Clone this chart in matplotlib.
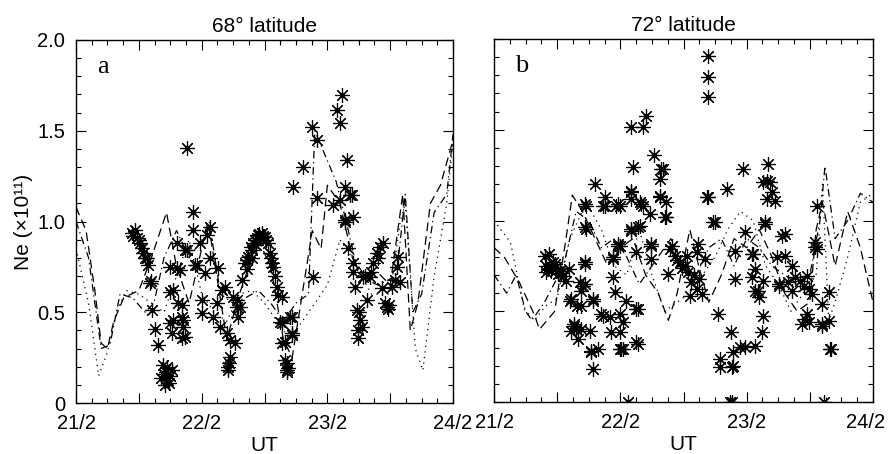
import matplotlib
matplotlib.use("Agg")
import matplotlib.pyplot as plt
import matplotlib.transforms as mtransforms
from matplotlib.ticker import MultipleLocator, FixedLocator

plt.rcParams["font.family"] = ["Liberation Sans", "DejaVu Sans"]

# time axis is in days after 21/2 00 UT
day_ticks = [0, 1, 2, 3]
day_labels = ["21/2", "22/2", "23/2", "24/2"]
titles = ["68° latitude", "72° latitude"]
panel_tags = ["a", "b"]

# --- 68 deg latitude: observed Ne (x10^11)
obs68 = [
    (.443, .935), (.469, .953), (.483, .907), (.509, .880), (.523, .852), (.535, .824),
    (.562, .797), (.575, .760), (.455, .92), (.50, .90), (.55, .80),
    (.589, .659), (.595, .67), (.602, .512), (.628, .41), (.655, .32),
    (.676, .14), (.692, .21), (.708, .10), (.716, .17), (.732, .127), (.748, .15),
    (.764, .18), (.70, .16), (.725, .20), (.74, .11),
    (.748, .75), (.748, .613), (.774, .623), (.774, .457), (.761, .384), (.748, .439),
    (.801, .88), (.801, .742), (.827, .733), (.814, .549), (.841, .54), (.841, .475),
    (.841, .356), (.854, .42), (.854, .457), (.867, .365), (.867, .843), (.881, .843),
    (.881, 1.407), (.928, 1.054), (.933, .953), (.947, .76), (.96, .76), (.986, .88),
    (1.0, .494), (1.0, .567), (1.026, .715), (1.04, .926), (1.066, .971), (1.066, .797),
    (1.092, .475), (1.119, .549), (1.132, .742), (1.146, .42), (1.159, .623), (1.185, .641),
    (1.199, .384), (1.225, .347), (1.225, .255), (1.212, .2), (1.212, .18), (1.22, .22),
    (1.251, .586), (1.265, .329), (1.278, .531), (1.278, .567), (1.291, .475), (1.305, .531),
    (1.318, .678), (1.344, .77), (1.371, .806), (1.398, .843), (1.424, .898), (1.45, .926),
    (1.477, .935), (1.504, .916), (1.53, .88), (1.543, .825), (1.57, .751), (1.597, .641),
    (1.61, .595), (1.623, .448), (1.636, .586), (1.636, .439), (1.636, .329), (1.663, .338),
    (1.663, .237), (1.676, .219), (1.676, .182), (1.689, .191), (1.676, .17), (1.702, .475),
    (1.716, .375), (1.716, .475), (1.716, .384), (1.888, .696),
    (1.36, .79), (1.39, .86), (1.41, .88), (1.44, .91), (1.46, .93), (1.49, .92),
    (1.51, .90), (1.55, .80), (1.56, .77), (1.58, .70), (1.43, .87), (1.40, .80), (1.36, .74),
    (1.729, 1.192), (1.808, 1.302), (1.875, 1.522), (1.915, 1.449), (1.915, 1.128),
    (2.047, 1.091), (2.074, 1.614), (2.1, 1.541), (2.1, 1.118), (2.114, 1.697), (2.14, 1.192),
    (2.14, 1.008), (2.154, 1.339), (2.18, 1.146), (2.193, 1.146), (2.206, 1.026), (2.14, .999),
    (2.166, .852), (2.206, .77), (2.206, .723), (2.22, .641), (2.233, .512), (2.259, .457),
    (2.273, .42), (2.246, .356), (2.286, .696), (2.313, .567), (2.339, .696), (2.365, .77),
    (2.392, .825), (2.418, .861), (2.445, .88), (2.432, .632), (2.472, .531), (2.48, .52),
    (2.46, .55), (2.49, .54), (2.512, .641), (2.538, .678), (2.551, .751), (2.564, .806),
    (2.578, .668), (2.35, .72), (2.40, .80), (2.30, .70), (2.25, .50), (2.24, .40),
]

# --- 72 deg latitude: observed Ne (x10^11)
obs72 = [
    (1.696, 1.908), (1.696, 1.789), (1.696, 1.679), (1.087, 1.513), (1.18, 1.513),
    (1.206, 1.577), (1.265, 1.362), (1.1, 1.293), (1.325, 1.284), (1.312, 1.229),
    (1.97, 1.284), (2.172, 1.311), (1.841, 1.174), (1.696, 1.128), (2.133, 1.21),
    (2.185, 1.21), (2.198, 1.155), (2.159, 1.118), (2.225, 1.109), (2.159, 1.219),
    (.796, 1.201), (.875, 1.128), (.875, 1.082), (.982, 1.091), (.717, 1.091), (1.087, 1.164),
    (1.087, 1.118), (1.153, 1.1), (1.18, 1.082), (1.233, 1.036), (1.312, 1.128), (1.365, 1.1),
    (1.365, 1.018), (2.56, 1.082), (.717, .962), (1.14, .962), (1.749, .99), (2.145, .99),
    (.73, 1.082), (.863, 1.082), (.968, 1.082), (.73, .953), (.982, .861), (.942, .797),
    (.717, .76), (.942, .687), (.955, .604),
    (.439, .815), (.413, .751), (.466, .77), (.492, .742), (.519, .723), (.545, .696),
    (.571, .668), (.505, .705), (.59, .733), (.452, .723), (.413, .714), (.40, .806),
    (.426, .733), (.48, .76), (.53, .71), (.46, .74),
    (.677, .66), (.717, .65), (.69, .613), (.783, .558), (.6, .558), (.659, .531),
    (.637, .43), (.651, .402), (.611, .393), (.69, .402), (.664, .347), (.756, .393),
    (.77, .283), (.823, .292), (.783, .182), (.849, .485), (.915, .467), (.928, .384),
    (.994, .485), (.994, .292), (.717, .77), (.704, .641), (.783, .567), (.611, .567),
    (.69, .531), (.637, .42), (.77, .274), (.863, .475), (1.008, .292), (1.14, .32),
    (1.14, .512), (1.048, .558), (1.127, .512), (1.021, .439), (.994, .384), (1.021, .292),
    (1.127, .329), (.942, .788), (.982, .87), (1.087, .944), (1.246, .87), (1.246, .788),
    (1.378, .705), (1.339, 1.284), (1.087, 1.155), (1.167, 1.091), (1.312, 1.137),
    (.994, 1.082), (1.352, 1.018), (1.087, .953), (1.153, .971), (.994, .861), (1.127, .825),
    (1.246, .861), (1.405, .861),
    (1.392, .843), (1.432, .806), (1.471, .77), (1.511, .751), (1.537, .714), (1.563, .66),
    (1.603, .623), (1.643, .595), (1.603, .825), (1.669, .788), (1.617, .87), (1.524, .806),
    (1.55, .586), (1.45, .78), (1.49, .74), (1.58, .70), (1.62, .68),
    (1.735, .99), (1.683, 1.128), (1.77, .485), (1.876, .384), (1.947, .301), (1.894, .274),
    (1.788, .237), (1.788, .191), (1.881, .191), (1.894, .2), (2.066, .31), (2.119, .384),
    (2.133, .475), (2.066, .613), (2.053, .815), (1.907, .834), (1.907, .678), (2.252, .641),
    (2.463, .457), (2.595, .42), (2.648, .604), (2.661, .292), (2.665, .29), (2.542, .852),
    (2.278, .916), (1.987, .935),
    (2.145, .981), (2.304, .926), (2.542, .88), (2.556, .843), (2.04, .815), (2.304, .806),
    (2.238, .797), (2.357, .751), (2.066, .733), (2.133, .668), (2.04, .687), (2.252, .65),
    (2.331, .66), (2.384, .687), (2.423, .668), (2.45, .641), (2.49, .623), (2.516, .595),
    (2.357, .613), (2.476, .696), (2.087, .613), (2.1, .577), (2.595, .54), (2.476, .485),
    (2.49, .439), (2.437, .43), (2.595, .43), (2.648, .448), (1.987, .301),
    (1.06, 0.0), (1.87, 0.0), (1.885, 0.0), (2.61, 0.0),
]

# --- model curves, 68 deg
m68_dash_t = [0.0, .08, .15, .2, .25, .3, .38, .5, .6, .72, .8, .9, 1.0, 1.05, 1.12, 1.2, 1.3,
              1.45, 1.55, 1.65, 1.72, 1.8, 1.88, 1.95, 2.0, 2.1, 2.2, 2.3, 2.4, 2.5, 2.6, 2.66,
              2.72, 2.82, 2.9, 3.0]
m68_dash = [1.08, .95, .62, .33, .3, .45, .58, .62, .8, 1.05, .75, .55, .85, 1.0, .7, .35, .6,
            .9, .75, .35, .25, .6, .95, .85, 1.2, 1.1, .8, .7, .72, .65, 1.15, .4,
            .55, 1.1, 1.2, 1.45]
m68_dot_t = [0.0, .1, .18, .25, .32, .4, .5, .6, .7, .8, .9, 1.0, 1.1, 1.2, 1.3, 1.4, 1.5, 1.6,
             1.7, 1.8, 1.9, 2.0, 2.1, 2.2, 2.35, 2.5, 2.58, 2.62, 2.7, 2.76, 2.85, 2.95, 3.0]
m68_dot = [.85, .55, .15, .28, .5, .62, .6, .55, .5, .7, .9, .6, .5, .45, .6, .62, .55, .45,
           .35, .45, .55, .65, .9, .8, .6, .6, 1.0, 1.1, .3, .18, .7, 1.1, 1.45]
m68_dd_t = [0.0, .1, .2, .27, .35, .45, .55, .62, .7, .8, .9, 1.0, 1.06, 1.15, 1.25, 1.35, 1.45,
            1.55, 1.65, 1.75, 1.85, 1.9, 2.07, 2.15, 2.25, 2.4, 2.55, 2.62, 2.68, 2.75, 2.85,
            2.95, 3.0]
m68_dd = [1.0, .8, .3, .32, .6, .58, .5, .55, .8, .95, .8, .9, 1.0, .6, .55, .58, .62,
          .55, .45, .55, .6, 1.5, 1.22, 1.0, .7, .65, .7, 1.15, .5, .6, 1.05,
          1.15, 1.48]

# --- model curves, 72 deg
m72_dash_t = [0.0, .08, .2, .32, .36, .48, .57, .62, .7, .8, .9, 1.0, 1.1, 1.2, 1.3, 1.38, 1.45,
              1.55, 1.62, 1.7, 1.8, 1.9, 2.0, 2.1, 2.2, 2.3, 2.4, 2.5, 2.55, 2.6, 2.7, 2.8,
              2.9, 3.0]
m72_dash = [.85, .8, .66, .48, .4, .5, .9, 1.14, 1.05, .9, .75, .85, .9, .7, .6, .45, .6,
            .95, .75, .55, .7, .9, .85, .95, .8, .6, .5, .55, .95, 1.1, .75, 1.05,
            .85, .55]
m72_dot_t = [0.0, .13, .24, .32, .41, .5, .6, .73, .85, .95, 1.05, 1.15, 1.25, 1.35, 1.45, 1.55,
             1.65, 1.75, 1.85, 1.95, 2.05, 2.15, 2.25, 2.35, 2.45, 2.55, 2.6, 2.65, 2.7, 2.8,
             2.9, 3.0]
m72_dot = [1.0, .88, .51, .45, .53, .57, .9, 1.1, .95, .75, .7, .95, .7, .5, .55, .6,
           .7, .8, .95, 1.05, 1.0, .75, .65, .5, .6, .7, 1.2, .45, .55, .8,
           1.1, 1.15]
m72_dd_t = [0.0, .1, .175, .25, .3, .4, .55, .65, .75, .85, .95, 1.05, 1.15, 1.3, 1.4, 1.5, 1.6,
            1.7, 1.8, 1.9, 2.0, 2.1, 2.2, 2.3, 2.4, 2.5, 2.58, 2.62, 2.7, 2.8, 2.9, 3.0]
m72_dd = [.7, .6, .7, .5, .45, .55, .75, 1.05, 1.0, .85, .9, .8, .65, .8, .9, .75, .7,
          .85, .9, .75, .9, .85, .75, .7, .65, .7, 1.0, 1.3, .9, 1.0, 1.15, 1.1]

panels = [
    (obs68, [(m68_dash_t, m68_dash), (m68_dot_t, m68_dot), (m68_dd_t, m68_dd)]),
    (obs72, [(m72_dash_t, m72_dash), (m72_dot_t, m72_dot), (m72_dd_t, m72_dd)]),
]
line_styles = [(0, (7, 4)), (0, (1, 3.5)), (0, (6, 3, 1, 3))]
half_days = [0, 0.5, 1.0, 1.5, 2.0, 2.5, 3.0]

fig = plt.figure(figsize=(8.89, 4.54), dpi=100)
axes = [fig.add_axes([0.0855, 0.1123, 0.4241, 0.7996]),
        fig.add_axes([0.5557, 0.1145, 0.4263, 0.7996])]

for i, (ax, (obs, models)) in enumerate(zip(axes, panels)):
    for (t, ne), ls in zip(models, line_styles):
        ax.plot(t, ne, color="black", lw=0.9, linestyle=ls)
    ot = [p[0] for p in obs]
    on = [p[1] for p in obs]
    ax.plot(ot, on, linestyle="none", marker=(8, 2, 0), ms=10.5, mew=0.85,
            color="black")
    ax.plot(ot, on, linestyle="none", marker="o", ms=2.4, color="black")

    ax.set_xlim(0, 3)
    ax.set_ylim(0, 2.0)
    ax.xaxis.set_major_locator(FixedLocator(half_days))
    ax.xaxis.set_minor_locator(MultipleLocator(0.125))
    ax.set_xticklabels([day_labels[int(v)] if v in day_ticks else ""
                        for v in half_days])
    ax.yaxis.set_major_locator(FixedLocator([0, 0.5, 1.0, 1.5, 2.0]))
    ax.yaxis.set_minor_locator(MultipleLocator(0.1))
    ax.tick_params(which="both", direction="in", top=True, right=True,
                   labelsize=14.5, width=0.8)
    ax.tick_params(which="major", length=7)
    ax.tick_params(axis="x", which="major", pad=8)
    ax.tick_params(axis="y", which="major", pad=8)
    ax.tick_params(which="minor", length=3.5)
    for s in ax.spines.values():
        s.set_linewidth(1.0)
    ax.set_xlabel("UT", fontsize=15, labelpad=2)
    ax.set_title(titles[i], fontsize=15, pad=6)
    ax.text(0.055, 0.955, panel_tags[i], transform=ax.transAxes, fontsize=19,
            family="Liberation Serif", va="top")

axes[0].set_yticklabels(["0", "0.5", "1.0", "1.5", "2.0"])
axes[0].set_ylabel("Ne (×10¹¹)", fontsize=15, labelpad=3)
axes[1].set_yticklabels([])

# last date label of the right panel sits a little inside the frame
fig.canvas.draw()
shift = mtransforms.ScaledTranslation(-5 / 72, 0, fig.dpi_scale_trans)
for lbl in axes[1].get_xticklabels():
    if lbl.get_text() == "24/2":
        lbl.set_transform(lbl.get_transform() + shift)

fig.savefig("out.png", dpi=100)
